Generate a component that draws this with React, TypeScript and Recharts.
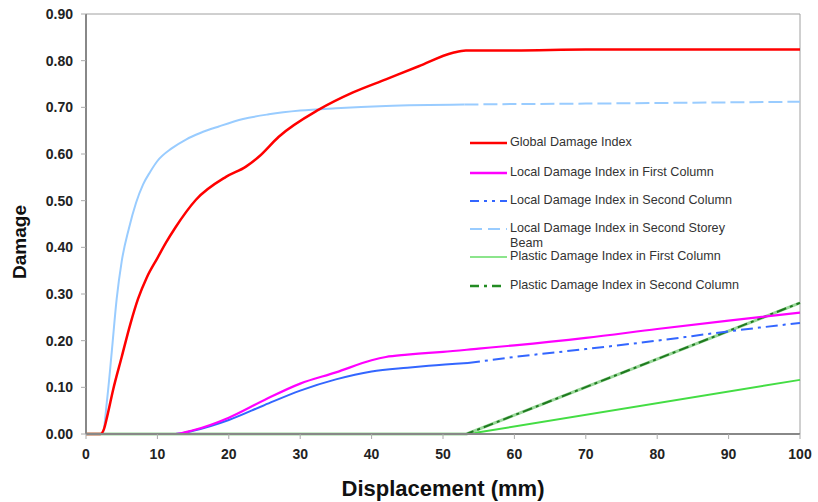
import { LineChart, Line, XAxis, YAxis, Legend, ReferenceArea } from "recharts";

const X_TICKS = [0, 10, 20, 30, 40, 50, 60, 70, 80, 90, 100];
const Y_TICKS = [0, 0.1, 0.2, 0.3, 0.4, 0.5, 0.6, 0.7, 0.8, 0.9];

// [displacement mm, damage]
const globalDamage: [number, number][] = [
  [0, 0], [2, 0], [2.5, 0.01], [3, 0.04], [3.8, 0.095], [5, 0.165], [6.2, 0.235],
  [7.3, 0.29], [8.5, 0.335], [10, 0.377], [11.2, 0.41], [12.5, 0.442],
  [15.4, 0.502], [19.6, 0.551], [22.4, 0.573], [24.2, 0.594], [27, 0.637],
  [32.6, 0.695], [37.4, 0.732], [42, 0.76], [46.6, 0.788], [51.4, 0.817],
  [53.2, 0.822], [60, 0.822], [70, 0.824], [100, 0.824],
];

const localFirstColumn: [number, number][] = [
  [0, 0], [12.5, 0], [15, 0.008], [20, 0.035], [25, 0.073], [30, 0.108],
  [35, 0.132], [40, 0.158], [42, 0.165], [45, 0.17], [48, 0.174], [50, 0.176],
  [55, 0.183], [60, 0.19], [70, 0.206], [80, 0.225], [90, 0.243], [100, 0.26],
];

const localSecondColumn: [number, number][] = [
  [0, 0], [12.5, 0], [15, 0.007], [20, 0.03], [25, 0.062], [30, 0.093],
  [35, 0.117], [40, 0.134], [45, 0.142], [48, 0.146], [53.5, 0.152],
  [60, 0.165], [70, 0.182], [80, 0.2], [90, 0.22], [100, 0.238],
];

const localBeam: [number, number][] = [
  [0, 0], [2.3, 0], [3, 0.08], [3.6, 0.175], [4.3, 0.29], [5, 0.37], [6, 0.44],
  [7, 0.495], [8, 0.535], [9, 0.562], [10, 0.585], [12, 0.612], [14, 0.631],
  [16, 0.645], [18.6, 0.659], [22, 0.675], [25.6, 0.685], [30, 0.693],
  [35, 0.698], [42, 0.703], [53, 0.706], [60, 0.707], [70, 0.708], [85, 0.71],
  [100, 0.712],
];

const plasticFirstColumn: [number, number][] = [
  [0, 0], [53.5, 0], [100, 0.116],
];

const plasticSecondColumn: [number, number][] = [
  [0, 0], [53.3, 0], [100, 0.281],
];

const LEGEND_ITEMS = [
  { label: "Global Damage Index", color: "#ff0000", width: 2.5, dash: "" },
  { label: "Local Damage Index in First Column", color: "#ff00ff", width: 2.5, dash: "" },
  { label: "Local Damage Index in Second Column", color: "#3366ff", width: 2, dash: "9 5 3 5 3 5" },
  { label: "Local Damage Index in Second Storey Beam", color: "#99ccff", width: 2, dash: "12 6" },
  { label: "Plastic Damage Index in First Column", color: "#66dd66", width: 1.5, dash: "" },
  { label: "Plastic Damage Index in Second Column", color: "#228b22", width: 2.5, dash: "9 5 3 5 9" },
];

const ROW_Y = [0, 30, 58, 86, 114, 143];

const toPoints = (pts: [number, number][]) => pts.map(([x, y]) => ({ x, y }));
const split = (pts: [number, number][], at: number, after: boolean) =>
  toPoints(pts.filter(([x]) => (after ? x >= at : x <= at)));

function CustomLegend() {
  return (
    <div style={{ position: "relative", width: 310, height: 160, fontFamily: "Arial, 'Liberation Sans', sans-serif", fontSize: 12.6, color: "#333" }}>
      {LEGEND_ITEMS.map((item, i) => (
        <div key={item.label} style={{ position: "absolute", left: 0, top: ROW_Y[i], display: "flex", alignItems: "flex-start" }}>
          <svg width={40} height={16} style={{ flexShrink: 0 }}>
            <line x1={0} y1={8} x2={37} y2={8} stroke={item.color} strokeWidth={item.width} strokeDasharray={item.dash || undefined} />
          </svg>
          <span style={{ lineHeight: "15px", width: 260, whiteSpace: "normal" }}>
            {i === 3 ? (
              <>
                Local Damage Index in Second Storey
                <br />
                Beam
              </>
            ) : (
              item.label
            )}
          </span>
        </div>
      ))}
    </div>
  );
}

const tickStyle = { fontSize: 14, fontWeight: 700, fill: "#222", fontFamily: "Arial, 'Liberation Sans', sans-serif" };

export default function App() {
  return (
    <div style={{ position: "absolute", left: 0, top: 0, width: 818, height: 502, background: "#fff" }}>
      <LineChart width={818} height={502} margin={{ top: 14, right: 18, bottom: 8, left: 0 }}>
        <ReferenceArea x1={0} x2={100} y1={0} y2={0.9} fill="none" stroke="#a0a0a0" strokeWidth={1} ifOverflow="visible" />
        <XAxis
          dataKey="x"
          type="number"
          domain={[0, 100]}
          ticks={X_TICKS}
          interval={0}
          height={60}
          tick={tickStyle}
          tickSize={5}
          tickMargin={10}
          axisLine={{ stroke: "#888", strokeWidth: 2 }}
          tickLine={{ stroke: "#aaa" }}
          label={{
            content: (props: any) => {
              const vb = props.viewBox;
              return (
                <text x={vb.x + vb.width / 2} y={vb.y + 62} textAnchor="middle" style={{ fontSize: 22, fontWeight: 700, fill: "#111", fontFamily: "Arial, 'Liberation Sans', sans-serif" }}>
                  Displacement (mm)
                </text>
              );
            },
          }}
        />
        <YAxis
          type="number"
          domain={[0, 0.9]}
          ticks={Y_TICKS}
          interval={0}
          width={86}
          tick={tickStyle}
          tickSize={5}
          tickMargin={8}
          tickFormatter={(v: number) => v.toFixed(2)}
          axisLine={{ stroke: "#888", strokeWidth: 2 }}
          tickLine={{ stroke: "#aaa" }}
          label={{
            content: (props: any) => {
              const vb = props.viewBox;
              const cx = vb.x + 21;
              const cy = vb.y + vb.height / 2 + 18;
              return (
                <text x={cx} y={cy} transform={`rotate(-90 ${cx} ${cy})`} textAnchor="middle" dominantBaseline="middle" style={{ fontSize: 19, fontWeight: 700, fill: "#111", fontFamily: "Arial, 'Liberation Sans', sans-serif" }}>
                  Damage
                </text>
              );
            },
          }}
        />
        <Legend
          layout="vertical"
          align="center"
          verticalAlign="middle"
          content={() => <CustomLegend />}
          wrapperStyle={{ left: 470, top: 135, width: 310, height: 160 }}
        />
        <Line data={split(localBeam, 53, false)} dataKey="y" type="monotone" stroke="#99ccff" strokeWidth={2} dot={false} isAnimationActive={false} />
        <Line data={split(localBeam, 53, true)} dataKey="y" type="monotone" stroke="#99ccff" strokeWidth={2} strokeDasharray="14 5" dot={false} isAnimationActive={false} />
        <Line data={toPoints(plasticFirstColumn)} dataKey="y" type="linear" stroke="#44dd44" strokeWidth={2} dot={false} isAnimationActive={false} />
        <Line data={toPoints(plasticSecondColumn)} dataKey="y" type="linear" stroke="#9ad89a" strokeWidth={3} dot={false} isAnimationActive={false} />
        <Line data={toPoints(plasticSecondColumn)} dataKey="y" type="linear" stroke="#1f7a1f" strokeWidth={2} strokeDasharray="10 4 3 4" dot={false} isAnimationActive={false} />
        <Line data={split(localSecondColumn, 53.5, false)} dataKey="y" type="monotone" stroke="#3366ff" strokeWidth={2} dot={false} isAnimationActive={false} />
        <Line data={split(localSecondColumn, 53.5, true)} dataKey="y" type="monotone" stroke="#3366ff" strokeWidth={2} strokeDasharray="12 5 3 5" dot={false} isAnimationActive={false} />
        <Line data={toPoints(localFirstColumn)} dataKey="y" type="monotone" stroke="#ff00ff" strokeWidth={2.2} dot={false} isAnimationActive={false} />
        <Line data={toPoints(globalDamage)} dataKey="y" type="monotone" stroke="#ff0000" strokeWidth={2.5} dot={false} isAnimationActive={false} />
      </LineChart>
    </div>
  );
}
